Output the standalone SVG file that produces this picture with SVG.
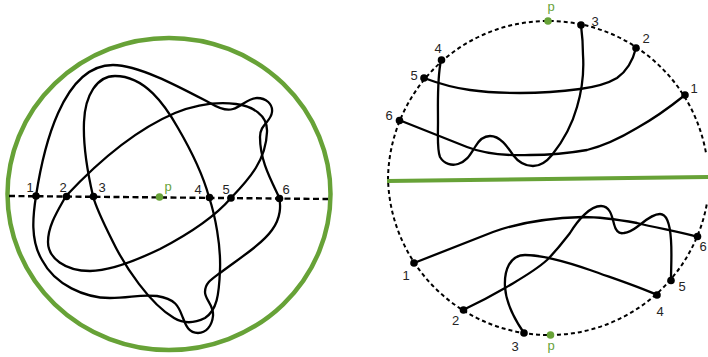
<svg xmlns="http://www.w3.org/2000/svg" width="708" height="357" viewBox="0 0 708 357">
<style>
.c{fill:none;stroke:#000;stroke-width:2.3;stroke-linecap:round;stroke-linejoin:round}
.d{fill:none;stroke:#000;stroke-width:2;stroke-dasharray:4 3}
.g{fill:none;stroke:#67a237}
.n{fill:#000}
.pt{fill:#67a237}
text{font-family:"Liberation Sans",Arial,sans-serif;font-size:13px;fill:#222;text-anchor:middle;opacity:.99}
text.gt{fill:#67a237}
</style>
<rect width="708" height="357" fill="#fff"/>
<g id="left-boundary"><ellipse class="g" stroke-width="4.5" cx="169" cy="194" rx="161.5" ry="156"/></g>
<g id="left-axis"><path d="M9 196L328 199" fill="none" stroke="#000" stroke-width="2.4" stroke-dasharray="6 3.5"/></g>
<g id="connectors">
<path class="c" d="M36 196C43 150 62 65 113 65C140 65 185 90 210 103C220 109 227 111 233 109C242 106 248 98 257 98C266 98 273 104 272 112C271 122 260 124 260 137C260 160 270 178 279 197C281 205 281 218 272 230C262 244 240 258 220 273C212 279 205 283 205 292C205 300 214 305 213 316C212 326 206 333 198 333C189 333 186 326 183 318C179 308 177 299 157 296C140 294 130 298 110 298C85 298 55 285 42 260C30 240 33 215 36 196"/>
<path class="c" d="M66 196C95 165 135 130 175 113C200 103 220 102 236 104C252 106 268 115 267 132C266 160 250 178 231 198C212 220 185 236 160 249C135 261 110 271 90 271C65 271 48 258 48 242C48 226 57 212 66 196"/>
<path class="c" d="M93 196C87 170 83 145 84 122C85 95 97 76 115 76C145 76 165 105 178 128C192 152 203 175 209 197C215 215 221 245 220 270C219 295 217 310 205 318C195 323 184 324 174 318C150 304 125 267 112 240C103 222 96 208 93 196"/>
<path class="c" d="M399 120L467 147C485 154 505 156 530 155C550 155 570 153 587 150C607 145 622 137 637 128C655 118 670 107 685 95"/>
<path class="c" d="M424 78C440 84 455 88 470 90C490 93 505 93 520 93C545 93 565 91 580 89C595 87 607 84 617 78C627 71 633 60 636 48"/>
<path class="c" d="M441 60C437 80 438 100 438 122C438 135 437 150 440 157C444 164 452 166 458 164C467 161 470 155 475 147C479 140 484 136 490 136C500 136 507 146 513 155C519 163 526 166 533 166C542 166 548 160 552 155C564 140 572 125 577 107C582 90 584 70 583 55C583 42 582 33 581 25"/>
<path class="c" d="M414 263L493 232C515 224 545 218 583 217C600 217 620 220 637 223C657 228 680 232 698 237"/>
<path class="c" d="M463 310C480 302 493 295 505 288C520 279 535 271 547 260C558 249 563 242 570 233C578 220 590 206 601 206C610 206 612 216 614 224C616 232 620 234 624 233C632 232 635 228 641 224C647 219 654 214 660 214C667 214 670 224 671 240C672 255 671 268 671 280"/>
<path class="c" d="M524 333C515 320 506 302 505 287C504 270 510 255 525 255C545 255 570 263 590 270C615 279 637 286 657 295"/>
</g>
<g id="left-nodes">
<g id="L1"><circle class="n" cx="36" cy="196" r="3.8"/><text x="30" y="192">1</text></g>
<g id="L2"><circle class="n" cx="66.500" cy="196.500" r="3.8"/><text x="63" y="192">2</text></g>
<g id="L3"><circle class="n" cx="93.500" cy="196.500" r="3.8"/><text x="102" y="192">3</text></g>
<g id="Lp"><circle class="pt" cx="159.500" cy="197" r="3.800"/><text class="gt" x="168" y="191">p</text></g>
<g id="L4"><circle class="n" cx="209.500" cy="197.500" r="3.8"/><text x="198" y="194">4</text></g>
<g id="L5"><circle class="n" cx="231" cy="198" r="3.8"/><text x="226" y="194">5</text></g>
<g id="L6"><circle class="n" cx="279.500" cy="198.500" r="3.8"/><text x="286" y="194">6</text></g>
</g>
<g id="right-boundary">
<path class="d" d="M388 180A160 160 0 0 1 548 21A160 160 0 0 1 706 153"/>
<path class="d" d="M388 176A161 160 0 0 0 550 335A160 160 0 0 0 707 203"/>
<path class="g" stroke-width="4" d="M387 181L708 177"/>
</g>
<g id="upper-nodes">
<g id="U1"><circle class="n" cx="685" cy="95" r="3.8"/><text x="694" y="93">1</text></g>
<g id="U2"><circle class="n" cx="636" cy="48" r="3.8"/><text x="646" y="43">2</text></g>
<g id="U3"><circle class="n" cx="581" cy="25" r="3.8"/><text x="595" y="26">3</text></g>
<g id="Up"><circle class="pt" cx="548" cy="21" r="3.800"/><text class="gt" x="551" y="11">p</text></g>
<g id="U4"><circle class="n" cx="441.500" cy="60" r="3.8"/><text x="438" y="53">4</text></g>
<g id="U5"><circle class="n" cx="424" cy="78" r="3.8"/><text x="414" y="80">5</text></g>
<g id="U6"><circle class="n" cx="399.500" cy="120.500" r="3.8"/><text x="389" y="120">6</text></g>
</g>
<g id="lower-nodes">
<g id="D1"><circle class="n" cx="414" cy="263" r="3.8"/><text x="406" y="280">1</text></g>
<g id="D2"><circle class="n" cx="463.500" cy="310" r="3.8"/><text x="455.500" y="325">2</text></g>
<g id="D3"><circle class="n" cx="524" cy="333" r="3.8"/><text x="515" y="351">3</text></g>
<g id="Dp"><circle class="pt" cx="550.500" cy="335" r="3.800"/><text class="gt" x="551" y="350">p</text></g>
<g id="D4"><circle class="n" cx="657" cy="295" r="3.8"/><text x="660" y="316">4</text></g>
<g id="D5"><circle class="n" cx="671" cy="280.500" r="3.8"/><text x="682" y="291">5</text></g>
<g id="D6"><circle class="n" cx="697.500" cy="236.500" r="3.8"/><text x="703" y="251">6</text></g>
</g>
</svg>
